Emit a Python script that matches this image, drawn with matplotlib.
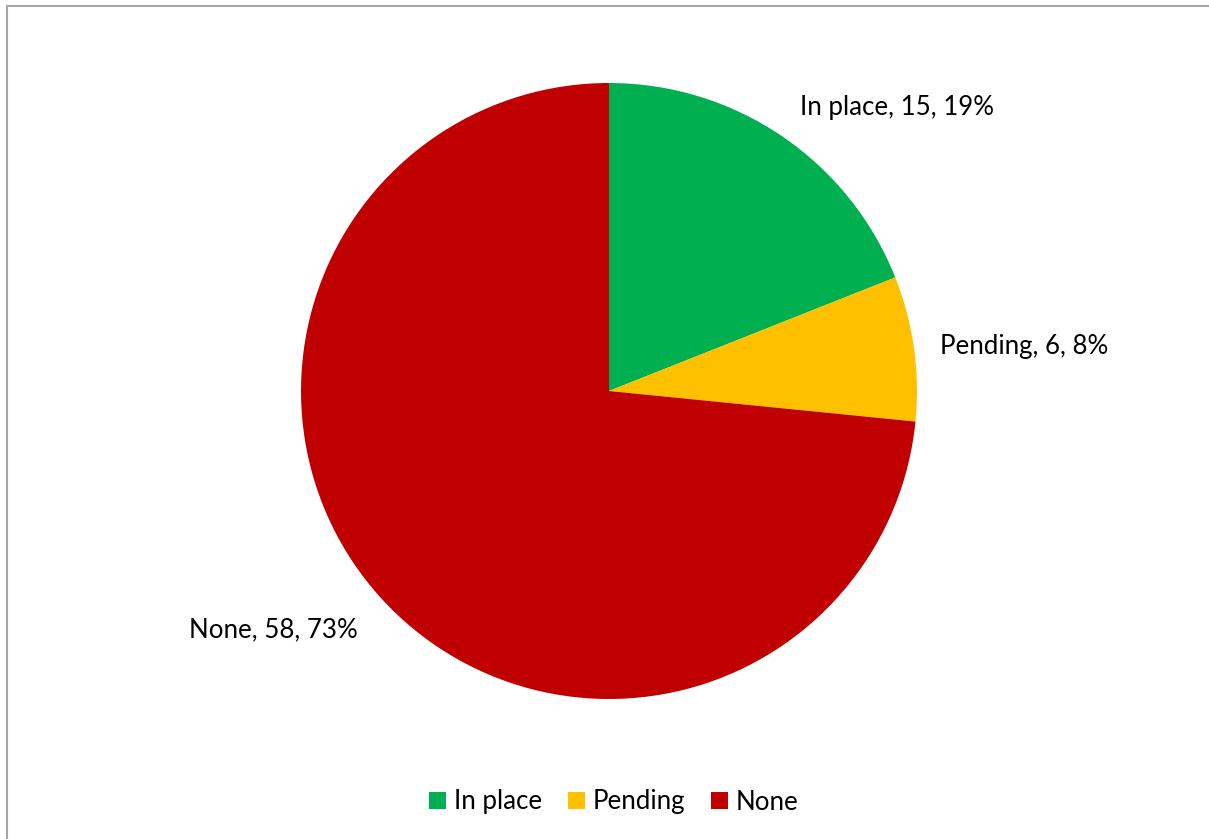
import matplotlib.pyplot as plt
from matplotlib.lines import Line2D
from matplotlib.patches import Patch

labels = ['In place', 'Pending', 'None']
counts = [15, 6, 58]
colors = ['#00B050', '#FFC000', '#C00000']

plt.rcParams['font.family'] = ['Lato', 'DejaVu Sans']

W, H = 1209, 839
fig = plt.figure(figsize=(W / 100, H / 100), dpi=100)

# pie centre and radius in pixels
cx, cy, r = 609, 391, 308
ax = fig.add_axes([(cx - r) / W, (H - cy - r) / H, 2 * r / W, 2 * r / H])
wedges, _ = ax.pie(counts, colors=colors, startangle=90, counterclock=False,
                   radius=1, wedgeprops=dict(linewidth=0))
ax.set_xlim(-1, 1)
ax.set_ylim(-1, 1)
ax.set_aspect('equal')
ax.axis('off')

total = sum(counts)
label_pos = [(0.62, 0.922, 'left'), (1.075, 0.146, 'left'), (-0.815, -0.776, 'right')]
for name, n, (x, y, ha) in zip(labels, counts, label_pos):
    pct = round(100 * n / total)
    ax.text(x, y, f'{name}, {n}, {pct}%', ha=ha, va='center', fontsize=18.6,
            color='black', clip_on=False)

handles = [Patch(facecolor=c, edgecolor='none') for c in colors]
fig.legend(handles, labels, loc='center', bbox_to_anchor=(614 / W, 1 - 802 / H),
           ncol=3, frameon=False, fontsize=18.6, handlelength=0.66, handleheight=0.66,
           handletextpad=0.3, columnspacing=1.0)

# chart area border (top and left edges visible)
fig.add_artist(Line2D([6.5 / W, 1], [1 - 5.5 / H, 1 - 5.5 / H], transform=fig.transFigure,
                      color='#A6A6A6', linewidth=1.5))
fig.add_artist(Line2D([6.5 / W, 6.5 / W], [0, 1 - 5.5 / H], transform=fig.transFigure,
                      color='#A6A6A6', linewidth=1.5))

fig.savefig('out.png', dpi=100)
